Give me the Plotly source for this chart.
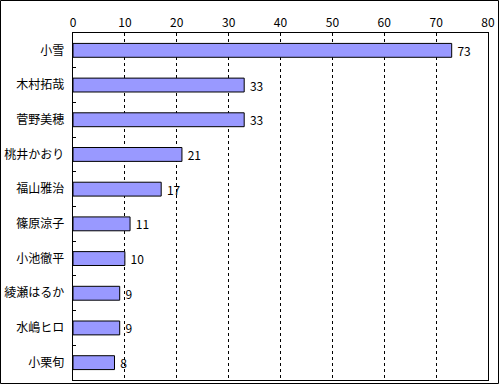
import plotly.graph_objects as go

names = ["小雪", "木村拓哉", "菅野美穂", "桃井かおり", "福山雅治", "篠原涼子", "小池徹平", "綾瀬はるか", "水嶋ヒロ", "小栗旬"]
values = [73, 33, 33, 21, 17, 11, 10, 9, 9, 8]
x_ticks = [0, 10, 20, 30, 40, 50, 60, 70, 80]

W, H = 500, 385
L, R, T, B = 73, 12, 33, 5

fig = go.Figure(go.Bar(
    y=names, x=values, orientation="h",
    marker=dict(color="#9999FF", line=dict(color="black", width=1)),
    width=0.4,
    text=[" " + str(v) for v in values], textposition="outside",
    textfont=dict(size=12, color="black"),
    constraintext="none",
    cliponaxis=False,
))

pw = W - L - R
ph = H - T - B
fig.update_layout(
    width=W, height=H,
    margin=dict(l=L, r=R, t=T, b=B, autoexpand=False),
    paper_bgcolor="white", plot_bgcolor="white",
    font=dict(family="Noto Sans CJK JP", size=12, color="black"),
    showlegend=False,
    xaxis=dict(range=[0, 80], side="top", tickvals=x_ticks, ticks="",
               showgrid=True, gridcolor="black", griddash="3px,3px", gridwidth=1,
               showline=True, linecolor="black", linewidth=1, mirror=True,
               zeroline=False, fixedrange=True, automargin=False),
    yaxis=dict(autorange="reversed", ticks="inside", tickson="boundaries",
               ticklen=3, tickcolor="black",
               showline=True, linecolor="black", linewidth=1, mirror=True,
               ticksuffix="  ", fixedrange=True, automargin=False),
    shapes=[dict(type="rect", xref="paper", yref="paper",
                 x0=(0.5 - L) / pw, x1=(W - 1.5 - L) / pw,
                 y0=-(B - 1.5) / ph, y1=1 + (T - 0.5) / ph,
                 line=dict(color="black", width=1))],
)

fig.write_html("out.html", config={"displayModeBar": False},
               post_script="document.body.style.margin='0';document.body.style.padding='0';")
